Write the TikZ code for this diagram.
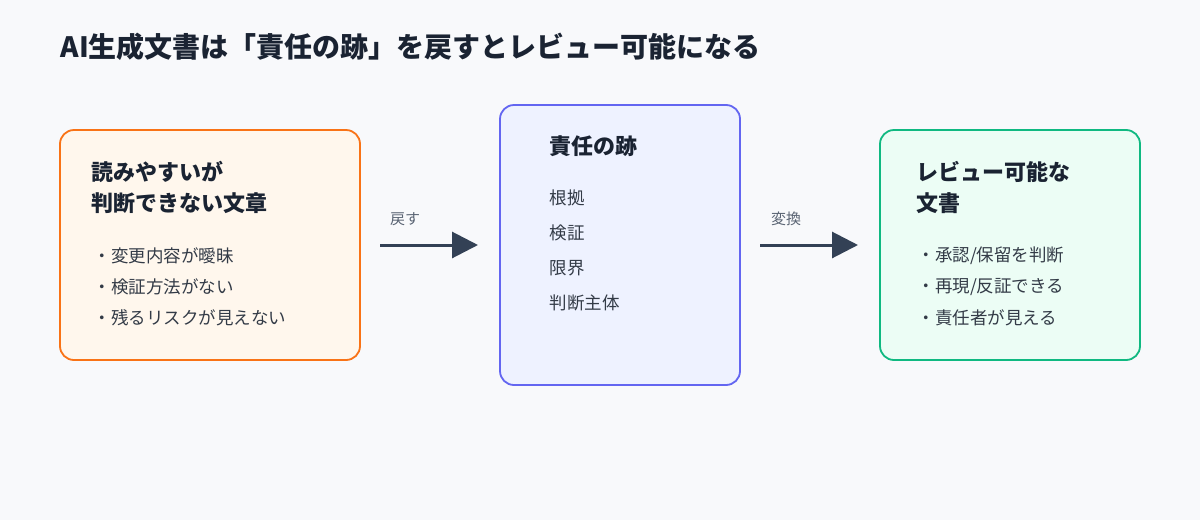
\documentclass[tikz,border=0pt]{standalone}
\usepackage{fontspec}
\setmainfont{Noto Sans CJK JP}
\usetikzlibrary{arrows.meta}
\definecolor{bg}{HTML}{F8F9FB}
\definecolor{ink}{HTML}{1A2332}
\definecolor{txt}{HTML}{333B47}
\definecolor{arr}{HTML}{334155}
\definecolor{lab}{HTML}{5A6473}
\definecolor{oS}{HTML}{F97316}\definecolor{oF}{HTML}{FFF7ED}
\definecolor{iS}{HTML}{6366F1}\definecolor{iF}{HTML}{EEF2FF}
\definecolor{gS}{HTML}{10B981}\definecolor{gF}{HTML}{ECFDF5}
\begin{document}
\begin{tikzpicture}[x=1pt,y=-1pt,
 box/.style={rounded corners=14pt,line width=1.8pt},
 ttl/.style={anchor=west,font=\fontsize{22}{31}\selectfont\bfseries,text=ink,align=left},
 itm/.style={anchor=west,font=\fontsize{17.5}{20}\selectfont,text=txt},
 con/.style={line width=3pt,draw=arr,-{Triangle[length=26pt,width=26pt]}},
 lbl/.style={font=\fontsize{15}{18}\selectfont,text=lab}]
\fill[bg] (0,0) rectangle (1200,520);
\useasboundingbox (0,0) rectangle (1200,520);
\node[anchor=west,font=\fontsize{28}{32}\selectfont\bfseries,text=ink] (title) at (57,47) {AI生成文書は「責任の跡」を戻すとレビュー可能になる};
\draw[box,draw=oS,fill=oF] (60,130) rectangle (360,360);
\node[ttl] (t1) at (88,187) {読みやすいが\\判断できない文章};
\node[itm] (a1) at (90,256) {・変更内容が曖昧};
\node[itm] (a2) at (90,287) {・検証方法がない};
\node[itm] (a3) at (90,318) {・残るリスクが見えない};
\draw[box,draw=iS,fill=iF] (500,105) rectangle (740,385);
\node[ttl] (t2) at (546,146) {責任の跡};
\node[itm] (b1) at (546,198) {根拠};
\node[itm] (b2) at (546,233) {検証};
\node[itm] (b3) at (546,268) {限界};
\node[itm] (b4) at (546,303) {判断主体};
\draw[box,draw=gS,fill=gF] (880,130) rectangle (1140,360);
\node[ttl] (t3) at (913,187) {レビュー可能な\\文書};
\node[itm] (c1) at (914,256) {・承認/保留を判断};
\node[itm] (c2) at (914,287) {・再現/反証できる};
\node[itm] (c3) at (914,318) {・責任者が見える};
\coordinate (p1) at (380,245); \coordinate (p2) at (478,245);
\coordinate (q1) at (760,245); \coordinate (q2) at (858,245);
\draw[con] (p1) -- (p2);
\draw[con] (q1) -- (q2);
\node[lbl] (l1) at (405,219) {戻す};
\node[lbl] (l2) at (786,219) {変換};
\end{tikzpicture}
\end{document}
